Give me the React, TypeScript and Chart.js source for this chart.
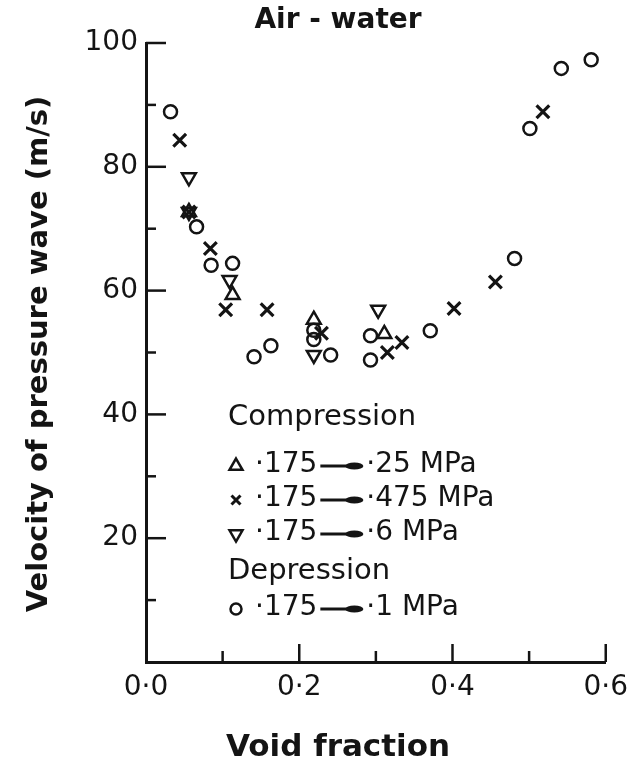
import { useEffect, useRef } from 'react';
import { Chart, registerables } from 'chart.js';

Chart.register(...registerables);

const INK = '#141414';
const FONT = '"DejaVu Sans", sans-serif';

// Text
const titleText = 'Air - water';
const xTitle = 'Void fraction';
const yTitle = 'Velocity of pressure wave (m/s)';

// Axis ticks (labelled values)
const xTickValues = [0, 0.2, 0.4, 0.6];
const xTickLabels = ['0·0', '0·2', '0·4', '0·6'];
const yTickValues = [20, 40, 60, 80, 100];
const yTickLabels = ['20', '40', '60', '80', '100'];

// Legend text
const groupCompression = 'Compression';
const groupDepression = 'Depression';
const fromPressure = ['·175', '·175', '·175', '·175'];
const toPressure = ['·25 MPa', '·475 MPa', '·6 MPa', '·1 MPa'];

// Series: [void fraction, velocity m/s]
const compression025: [number, number][] = [
  [0.056, 72.7], [0.113, 59.3], [0.219, 55.3], [0.311, 53.0],
];
const compression0475: [number, number][] = [
  [0.044, 84.3], [0.056, 72.7], [0.084, 66.8], [0.104, 56.9], [0.158, 56.9],
  [0.229, 53.1], [0.315, 50.0], [0.334, 51.6], [0.402, 57.1], [0.456, 61.4],
  [0.518, 88.9],
];
const compression06: [number, number][] = [
  [0.056, 78.3], [0.056, 72.7], [0.109, 61.7], [0.219, 49.6], [0.303, 56.9],
];
const depression01: [number, number][] = [
  [0.032, 88.9], [0.066, 70.3], [0.085, 64.1], [0.113, 64.4], [0.141, 49.3],
  [0.163, 51.1], [0.219, 53.6], [0.219, 52.1], [0.241, 49.6], [0.293, 52.7],
  [0.293, 48.8], [0.371, 53.5], [0.481, 65.2], [0.501, 86.2], [0.542, 95.9],
  [0.581, 97.3],
];

const toPoints = (arr: [number, number][]) => arr.map(([x, y]) => ({ x, y }));

type Marker = 'up' | 'cross' | 'down' | 'circle';

function drawMarker(ctx: CanvasRenderingContext2D, kind: Marker, x: number, y: number) {
  ctx.save();
  ctx.strokeStyle = INK;
  ctx.lineWidth = 2.5;
  ctx.beginPath();
  if (kind === 'circle') {
    ctx.arc(x, y, 5.5, 0, Math.PI * 2);
  } else if (kind === 'cross') {
    const d = 4.5;
    ctx.lineWidth = 3;
    ctx.moveTo(x - d, y - d); ctx.lineTo(x + d, y + d);
    ctx.moveTo(x + d, y - d); ctx.lineTo(x - d, y + d);
  } else {
    const r = 7.5;
    const s = kind === 'up' ? 1 : -1;
    for (let i = 0; i < 3; i++) {
      const a = (i * 2 * Math.PI) / 3;
      const px = x + Math.sin(a) * r;
      const py = y - s * Math.cos(a) * r;
      if (i === 0) ctx.moveTo(px, py); else ctx.lineTo(px, py);
    }
    ctx.closePath();
  }
  ctx.stroke();
  ctx.restore();
}

function drawArrow(ctx: CanvasRenderingContext2D, x: number, y: number) {
  ctx.save();
  ctx.strokeStyle = INK;
  ctx.fillStyle = INK;
  ctx.lineWidth = 3;
  ctx.beginPath();
  ctx.moveTo(x, y);
  ctx.lineTo(x + 28, y);
  ctx.stroke();
  ctx.beginPath();
  ctx.ellipse(x + 34, y, 9, 3.6, 0, 0, Math.PI * 2);
  ctx.fill();
  ctx.restore();
}

// Inward-pointing tick marks on both axes
const innerTicks = {
  id: 'innerTicks',
  afterDraw(chart: any) {
    const { ctx, chartArea } = chart;
    const xs = chart.scales.x;
    const ys = chart.scales.y;
    ctx.save();
    ctx.strokeStyle = INK;
    ctx.lineWidth = 2.5;
    ctx.lineCap = 'butt';
    xs.ticks.forEach((t: any) => {
      const k = Math.round(t.value * 10);
      if (k === 0) return;
      const len = k % 2 === 0 ? 18 : 11;
      const px = xs.getPixelForValue(t.value);
      ctx.beginPath();
      ctx.moveTo(px, chartArea.bottom);
      ctx.lineTo(px, chartArea.bottom - len);
      ctx.stroke();
    });
    ys.ticks.forEach((t: any) => {
      const k = Math.round(t.value / 10);
      if (k === 0) return;
      const len = k % 2 === 0 ? 20 : 10;
      const py = ys.getPixelForValue(t.value);
      ctx.beginPath();
      ctx.moveTo(chartArea.left, py);
      ctx.lineTo(chartArea.left + len, py);
      ctx.stroke();
    });
    ctx.restore();
  },
};

// Titles and the in-plot legend
const annotations = {
  id: 'annotations',
  afterDraw(chart: any) {
    const ctx: CanvasRenderingContext2D = chart.ctx;
    ctx.save();
    ctx.fillStyle = INK;
    ctx.textBaseline = 'middle';
    ctx.textAlign = 'center';

    ctx.font = `bold 28px ${FONT}`;
    ctx.fillText(titleText, 338, 21);

    ctx.font = `bold 31px ${FONT}`;
    ctx.fillText(xTitle, 338, 748);

    ctx.save();
    ctx.translate(39, 354);
    ctx.rotate(-Math.PI / 2);
    ctx.font = `bold 29px ${FONT}`;
    ctx.fillText(yTitle, 0, 0);
    ctx.restore();

    ctx.textAlign = 'left';
    ctx.font = `29px ${FONT}`;
    ctx.fillText(groupCompression, 228, 417);
    ctx.fillText(groupDepression, 228, 571);

    const markers: Marker[] = ['up', 'cross', 'down', 'circle'];
    const rowsY = [465, 499, 533, 608];
    ctx.font = `28px ${FONT}`;
    markers.forEach((m, i) => {
      const y = rowsY[i];
      drawMarker(ctx, m, 236, y + 1);
      ctx.fillText(fromPressure[i], 255, y);
      const w = ctx.measureText(fromPressure[i]).width;
      const ax = 255 + w + 3;
      drawArrow(ctx, ax, y + 1);
      ctx.fillText(toPressure[i], ax + 46, y);
    });
    ctx.restore();
  },
};

function pointDataset(label: string, data: [number, number][], style: string, radius: number, rotation = 0, width = 2.5) {
  return {
    label,
    data: toPoints(data),
    showLine: false,
    pointStyle: style,
    pointRadius: radius,
    pointRotation: rotation,
    pointBorderWidth: width,
    borderWidth: width,
    borderColor: INK,
    pointBorderColor: INK,
    backgroundColor: 'rgba(0,0,0,0)',
    pointBackgroundColor: 'rgba(0,0,0,0)',
  };
}

export default function App() {
  const ref = useRef<HTMLCanvasElement>(null);

  useEffect(() => {
    if (!ref.current) return;
    const chart = new Chart(ref.current, {
      type: 'scatter',
      data: {
        datasets: [
          pointDataset(`${fromPressure[0]} → ${toPressure[0]}`, compression025, 'triangle', 8),
          pointDataset(`${fromPressure[1]} → ${toPressure[1]}`, compression0475, 'crossRot', 9, 0, 3.2),
          pointDataset(`${fromPressure[2]} → ${toPressure[2]}`, compression06, 'triangle', 8, 180),
          pointDataset(`${fromPressure[3]} → ${toPressure[3]}`, depression01, 'circle', 6.5),
        ] as any,
      },
      options: {
        responsive: false,
        animation: false,
        events: [],
        layout: { padding: { top: 43, right: 31, left: 0, bottom: 0 } },
        plugins: {
          legend: { display: false },
          tooltip: { enabled: false },
          title: { display: false },
        },
        scales: {
          x: {
            type: 'linear',
            min: 0,
            max: 0.6,
            afterFit(s: any) { s.height = 106; },
            grid: { display: false, drawTicks: false, tickLength: 0 },
            border: { display: true, color: INK, width: 3 },
            ticks: {
              stepSize: 0.1,
              autoSkip: false,
              maxRotation: 0,
              padding: 9,
              color: INK,
              font: { size: 28, family: FONT },
              callback: (v: any) => {
                const i = xTickValues.findIndex((t) => Math.abs(t - Number(v)) < 1e-6);
                return i >= 0 ? xTickLabels[i] : '';
              },
            },
          },
          y: {
            type: 'linear',
            min: 0,
            max: 100,
            afterFit(s: any) { s.width = 146; },
            grid: { display: false, drawTicks: false, tickLength: 0 },
            border: { display: true, color: INK, width: 3 },
            ticks: {
              stepSize: 10,
              autoSkip: false,
              padding: 8,
              color: INK,
              font: { size: 28, family: FONT },
              callback: (v: any) => {
                const i = yTickValues.findIndex((t) => Math.abs(t - Number(v)) < 1e-6);
                return i >= 0 ? yTickLabels[i] : '';
              },
            },
          },
        },
      } as any,
      plugins: [innerTicks, annotations],
    });
    return () => chart.destroy();
  }, []);

  return (
    <div style={{ position: 'absolute', left: 0, top: 0, width: 637, height: 768, background: '#fff' }}>
      <canvas ref={ref} width={637} height={768} style={{ display: 'block' }} />
    </div>
  );
}
